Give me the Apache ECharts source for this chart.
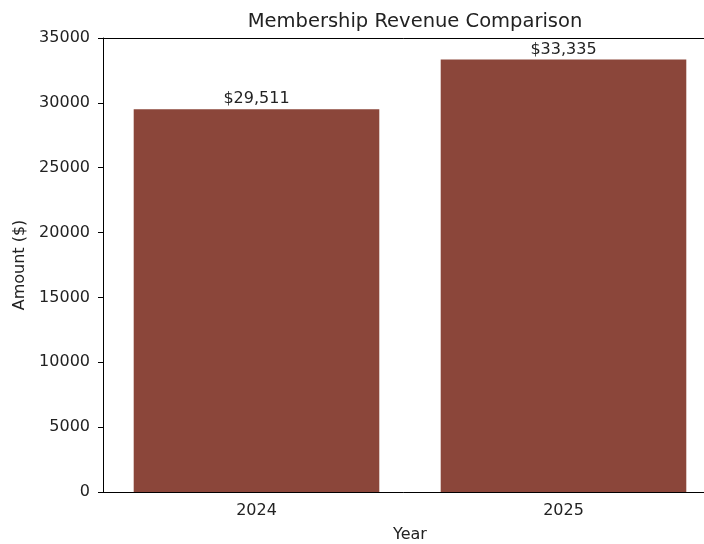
<!DOCTYPE html>
<html>
<head>
<meta charset="utf-8">
<script src="https://cdn.jsdelivr.net/npm/echarts@6/dist/echarts.min.js"></script>
<style>html,body{margin:0;padding:0;background:#fff}#chart{width:704px;height:544px}</style>
</head>
<body>
<div id="chart"></div>
<script>
const years = ['2024', '2025'];
const revenue = [29511, 33335];
const yTicks = [0, 5000, 10000, 15000, 20000, 25000, 30000, 35000];

const font = 'DejaVu Sans';
const ink = '#222';
const chart = echarts.init(document.getElementById('chart'));
chart.setOption({
  animation: false,
  backgroundColor: '#fff',
  title: {
    text: 'Membership Revenue Comparison',
    left: 410, top: 7, textAlign: 'center',
    textStyle: { fontFamily: font, fontSize: 19.5, fontWeight: 'normal', color: ink }
  },
  // the plot runs a little past the right edge of the page
  grid: { left: 103, width: 614, top: 38, height: 454, outerBoundsMode: 'none', containLabel: false },
  xAxis: [{
    type: 'category', data: years,
    name: 'Year', nameLocation: 'middle', nameGap: 35,
    nameTextStyle: { fontFamily: font, fontSize: 16, color: ink },
    axisLine: { lineStyle: { color: '#000', width: 1 } },
    axisTick: { alignWithLabel: true, length: 5, lineStyle: { color: '#000' } },
    axisLabel: { fontFamily: font, fontSize: 16, color: ink, margin: 11 }
  }, {
    type: 'category', data: years, position: 'top',
    axisLine: { show: true, lineStyle: { color: '#000', width: 1 } },
    axisTick: { show: false }, axisLabel: { show: false }
  }],
  yAxis: {
    type: 'value', min: yTicks[0], max: yTicks[yTicks.length - 1], interval: 5000,
    name: 'Amount ($)', nameLocation: 'middle', nameGap: 73,
    nameTextStyle: { fontFamily: font, fontSize: 16, color: ink },
    axisLine: { show: true, lineStyle: { color: '#000', width: 1 } },
    axisTick: { show: true, length: 5, lineStyle: { color: '#000' } },
    axisLabel: { fontFamily: font, fontSize: 16, color: ink, margin: 13, formatter: v => String(v) },
    splitLine: { show: false }
  },
  series: [{
    type: 'bar', data: revenue, barWidth: '80%',
    itemStyle: { color: '#8B463A' },
    label: {
      show: true, position: 'top', distance: 2,
      fontFamily: font, fontSize: 16, color: ink,
      formatter: p => '$' + p.value.toLocaleString('en-US')
    }
  }]
});
</script>
</body>
</html>
